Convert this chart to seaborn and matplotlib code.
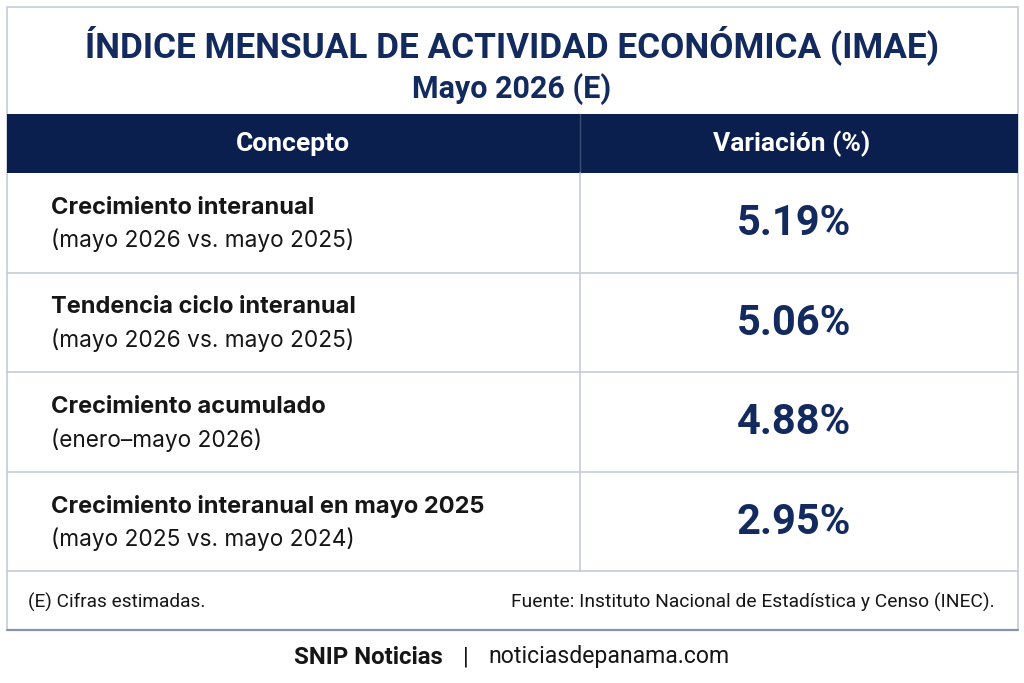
import matplotlib
matplotlib.use("Agg")
import matplotlib.pyplot as plt
from matplotlib.patches import Rectangle
import seaborn as sns

# data
title = "ÍNDICE MENSUAL DE ACTIVIDAD ECONÓMICA (IMAE)"
subtitle = "Mayo 2026 (E)"
col_headers = ["Concepto", "Variación (%)"]
concepts = ["Crecimiento interanual",
            "Tendencia ciclo interanual",
            "Crecimiento acumulado",
            "Crecimiento interanual en mayo 2025"]
periods = ["(mayo 2026 vs. mayo 2025)",
           "(mayo 2026 vs. mayo 2025)",
           "(enero\u2013mayo 2026)",
           "(mayo 2025 vs. mayo 2024)"]
variation = [5.19, 5.06, 4.88, 2.95]
note = "(E) Cifras estimadas."
source = "Fuente: Instituto Nacional de Estadística y Censo (INEC)."
brand = "SNIP Noticias"
site = "noticiasdepanama.com"

sns.set_theme(style="white")
HEAD = ["Roboto", "DejaVu Sans"]
BODY = ["Inter", "Roboto", "DejaVu Sans"]
plt.rcParams["font.family"] = BODY

NAVY = "#0b1f4e"
TEXT_NAVY = "#132a5e"
GRID = "#c6cbd7"
DARK = "#161616"

fig = plt.figure(figsize=(10.24, 6.83), dpi=100)
ax = fig.add_axes([0, 0, 1, 1])
ax.set_xlim(0, 1024)
ax.set_ylim(683, 0)
ax.axis("off")

left, right, mid = 6.5, 1017.5, 580
top = 7
head_top, head_bot = 114, 173
row_h = 99.5
foot_top = head_bot + row_h * len(concepts)
foot_bot = 630

# outer box
ax.add_patch(Rectangle((left, top), right - left, foot_bot - top,
                       fill=False, ec=GRID, lw=1.2))
ax.plot([left, right], [foot_bot, foot_bot], color="#8893ad", lw=1.6)

# title
ax.text(512, 57, title, ha="center", va="baseline", fontsize=25.3,
        fontweight="bold", color=TEXT_NAVY, family=HEAD)
ax.text(512, 98, subtitle, ha="center", va="baseline", fontsize=22,
        fontweight="bold", color=TEXT_NAVY, family=HEAD)

# header band
ax.add_patch(Rectangle((left, head_top), right - left, head_bot - head_top,
                       color=NAVY, lw=0))
ax.plot([mid, mid], [head_top, head_bot], color="#3a4a72", lw=1)
ax.text((left + mid) / 2, 144, col_headers[0], ha="center", va="center",
        fontsize=19, fontweight="bold", color="white", family=HEAD)
ax.text((mid + right) / 2 - 7, 144, col_headers[1], ha="center", va="center",
        fontsize=19, fontweight="bold", color="white", family=HEAD)

# rows
for i, (c, p, v) in enumerate(zip(concepts, periods, variation)):
    y0 = head_bot + i * row_h
    yc = y0 + row_h / 2
    ax.text(51, yc - 15, c, ha="left", va="center", fontsize=17,
            fontweight="bold", color=DARK)
    ax.text(51, yc + 18, p, ha="left", va="center", fontsize=16.3,
            color=DARK)
    ax.text(794, yc + 1, f"{v:.2f}%", ha="center", va="center",
            fontsize=30, fontweight="bold", color=TEXT_NAVY, family=HEAD)
    ax.plot([left, right], [y0 + row_h, y0 + row_h], color=GRID, lw=1.2)

ax.plot([mid, mid], [head_bot, foot_top], color=GRID, lw=1.2)

# footer
ax.text(28, 602, note, ha="left", va="center", fontsize=13.7,
        color=DARK, family=HEAD)
ax.text(995, 602, source, ha="right", va="center", fontsize=13.9,
        color=DARK, family=HEAD)

ax.text(443, 657, brand, ha="right", va="center", fontsize=17.3,
        fontweight="bold", color=DARK, family=HEAD)
ax.text(466, 657, "|", ha="center", va="center", fontsize=17,
        color=DARK, family=HEAD)
ax.text(488, 657, site, ha="left", va="center", fontsize=16.6,
        color=DARK, family=HEAD)

fig.savefig("out.png", dpi=100, facecolor="white")
